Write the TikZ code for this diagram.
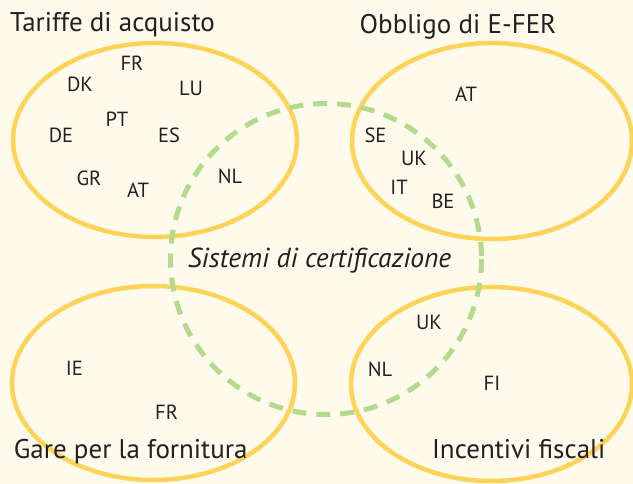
\documentclass[tikz,border=0pt]{standalone}
\usepackage{fontspec}
\setmainfont{PT Sans}
\definecolor{bgc}{RGB}{255,251,236}
\definecolor{ylw}{RGB}{255,210,88}
\definecolor{grn}{RGB}{180,218,142}
\definecolor{txt}{RGB}{35,31,32}
\begin{document}
\begin{tikzpicture}[x=1pt,y=-1pt,
  setring/.style={draw=ylw,line width=4.5pt},
  certring/.style={draw=grn,line width=5pt,dash pattern=on 14pt off 10pt},
  cc/.style={inner sep=0pt,anchor=base,text=txt,font=\fontsize{20.5}{22}\selectfont},
  ttl/.style={inner sep=0pt,anchor=base,text=txt,font=\fontsize{27}{30}\selectfont}]
\fill[bgc] (0,0) rectangle (633,484);
\useasboundingbox (0,0) rectangle (633,484);
% rings
\draw[setring] (155,140) ellipse [x radius=142, y radius=97];
\draw[setring] (492,141) ellipse [x radius=140, y radius=98];
\draw[setring] (153.5,383) ellipse [x radius=141.5, y radius=97];
\draw[setring] (491.5,384) ellipse [x radius=140.5, y radius=97];
\draw[certring] (326,259) circle [radius=155.5];
% titles
\node[ttl] (t1) at (112.5,32) {Tariffe di acquisto};
\node[ttl] (t2) at (458,34) {Obbligo di E-FER};
\node[ttl] (t3) at (130.7,458) {Gare per la fornitura};
\node[ttl] (t4) at (518.7,458) {Incentivi fiscali};
\node[ttl,font=\fontsize{27.5}{30}\selectfont\itshape] (t5) at (319.5,268) {Sistemi di certificazione};
% top-left
\node[cc] (a1) at (132,71) {FR};
\node[cc] (a2) at (80,92) {DK};
\node[cc] (a3) at (191,96) {LU};
\node[cc] (a4) at (117,127) {PT};
\node[cc] (a5) at (61,143) {DE};
\node[cc] (a6) at (169,143) {ES};
\node[cc] (a7) at (89,186) {GR};
\node[cc] (a8) at (138,198) {AT};
\node[cc] (a9) at (230,184) {NL};
% top-right
\node[cc] (b1) at (466,102) {AT};
\node[cc] (b2) at (375.5,143) {SE};
\node[cc] (b3) at (414,166) {UK};
\node[cc] (b4) at (399,195) {IT};
\node[cc] (b5) at (443,209) {BE};
% bottom-left
\node[cc] (c1) at (74.3,376) {IE};
\node[cc] (c2) at (166.6,420) {FR};
% bottom-right
\node[cc] (d1) at (429,330) {UK};
\node[cc] (d2) at (380,377) {NL};
\node[cc] (d3) at (492,391) {FI};
\end{tikzpicture}
\end{document}
